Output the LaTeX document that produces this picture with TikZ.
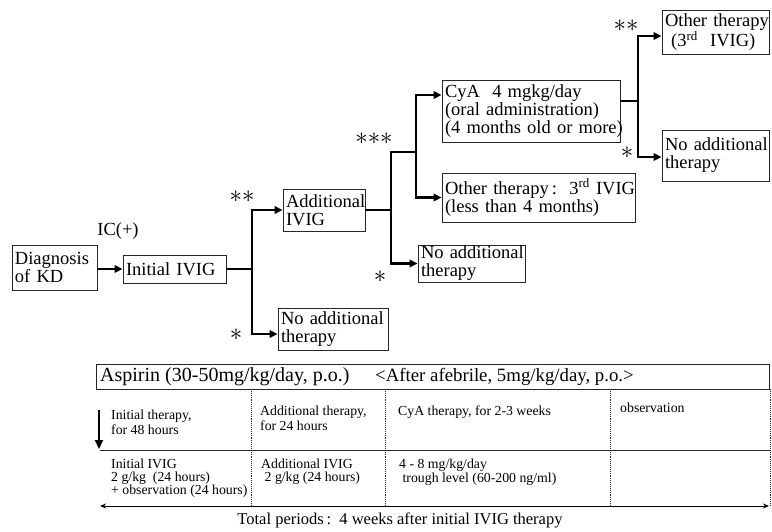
\documentclass[tikz,border=0pt]{standalone}
\usepackage{fontspec}
\setmainfont{Liberation Serif}
\usetikzlibrary{arrows.meta,calc}
\tikzset{
  bx/.style={draw=black!85, line width=0.9pt, inner xsep=3pt, inner ysep=0pt,
    align=left, font=\fontsize{18.5}{18}\selectfont, anchor=center},
  arr/.style={line width=2.4pt, -{Triangle[length=8pt,width=7.5pt]}},
  ln/.style={line width=2.4pt},
  star/.style={font=\fontsize{25}{25}\selectfont, inner sep=0pt},
  lbl/.style={font=\fontsize{18.5}{18}\selectfont, inner sep=0pt},
  tbl/.style={font=\fontsize{13.8}{15}\selectfont, align=left, inner sep=0pt, anchor=north west},
  tblb/.style={font=\fontsize{13.8}{12.5}\selectfont, align=left, inner sep=0pt, anchor=north west},
  dotl/.style={densely dotted, line width=0.9pt, black!85},
}
\begin{document}
\begin{tikzpicture}[x=1pt,y=-1pt]
\useasboundingbox (0,0) rectangle (772,531);
% boxes
\node[bx, text width=79pt, minimum height=45pt] (diag) at (54.5,267.5) {Diagnosis\\of KD};
\node[bx, text width=97pt, minimum height=28pt] (init) at (174.5,269) {Initial IVIG};
\node[bx, text width=76pt, minimum height=42pt] (add) at (324,210) {Additional\\IVIG};
\node[bx, text width=104pt, minimum height=42pt] (no1) at (333,329) {\mbox{No additional}\\therapy};
\node[bx, text width=101pt, minimum height=37pt] (no2) at (471.5,263.5) {\mbox{No additional}\\therapy};
\node[bx, text width=172pt, minimum height=62pt] (cya) at (531,111) {\mbox{CyA\ \ 4 mgkg/day}\\\mbox{(oral administration)}\\\mbox{(4 months old or more)}};
\node[bx, text width=187pt, minimum height=49pt] (oth) at (538.5,197.5) {\mbox{Other therapy\,:\ \ 3\textsuperscript{rd} IVIG}\\\mbox{(less than 4 months)}};
\node[bx, text width=101pt, minimum height=44pt] (oth3) at (715.5,32) {\mbox{Other therapy}\\\mbox{\ (3\textsuperscript{rd}\ \ IVIG)}};
\node[bx, text width=101pt, minimum height=51pt] (no3) at (715.5,155.5) {\mbox{No additional}\\therapy};
% labels
\node[lbl] (ic) at (118,231) {IC(+)};
\node[star] (s1) at (242,197) {${\ast}{\ast}$};
\node[star] (s2) at (236,335) {${\ast}$};
\node[star] (s3) at (374,139) {${\ast}{\ast}{\ast}$};
\node[star] (s4) at (380,277) {${\ast}$};
\node[star] (s5) at (626,26) {${\ast}{\ast}$};
\node[star] (s6) at (627,153) {${\ast}$};
% connectors
\coordinate (j1) at (252,269);
\coordinate (j2) at (391,210);
\coordinate (j3) at (416,152);
\coordinate (j4) at (638,101);
\draw[arr] (diag.east |- init.west) -- (init.west);
\draw[ln] (init.east) -- (j1);
\draw[arr] (j1) |- (add.west);
\draw[arr] (j1) |- ([yshift=-5pt]no1.west);
\draw[ln] (add.east) -- (j2);
\draw[ln] (j2) |- (j3);
\draw[arr] (j2) |- (no2.west);
\draw[arr] (j3) |- ([yshift=16pt]cya.west);
\draw[arr] (j3) |- (oth.west);
\draw[ln] ([yshift=10pt]cya.east) -- (j4);
\draw[arr] (j4) |- ([yshift=-4pt]oth3.west);
\draw[arr] (j4) |- ([yshift=-1.5pt]no3.west);
% table
\node[draw=black!85, line width=0.9pt, minimum width=673pt, minimum height=25pt, inner sep=0pt, anchor=north west] (asp) at (96,364) {};
\node[font=\fontsize{20}{20}\selectfont, inner sep=0pt, anchor=west] (asp1) at (100,376.5) {Aspirin (30-50mg/kg/day, p.o.)};
\node[font=\fontsize{18.8}{20}\selectfont, inner sep=0pt, anchor=west] (asp2) at (375,376.5) {<After afebrile, 5mg/kg/day, p.o.>};
\draw[line width=0.9pt, black!85] (100,450) -- (770,450);
\foreach \x in {251,385,610,770} \draw[dotl] (\x,389) -- (\x,506);
\draw[line width=1pt, {Stealth[length=6pt,width=5pt]}-{Stealth[length=6pt,width=5pt]}] (100,506) -- (769,506);
\draw[line width=2.2pt, -{Triangle[length=9pt,width=8pt]}] (99,410) -- (99,449);
\node[tbl] (t11) at (111,410) {Initial therapy,\\for 48 hours};
\node[tbl] (t12) at (260,406) {Additional therapy,\\for 24 hours};
\node[tbl] (t13) at (398,406) {CyA therapy, for 2-3 weeks};
\node[tbl] (t14) at (620,403) {observation};
\node[tblb] (t21) at (111,459) {Initial IVIG\\2 g/kg\ \ (24 hours)\\+ observation (24 hours)};
\node[tblb] (t22) at (261,459) {Additional IVIG\\\ 2 g/kg (24 hours)};
\node[tblb] (t23) at (399,459) {4 - 8 mg/kg/day\\\ trough level (60-200 ng/ml)};
\node[font=\fontsize{16.5}{18}\selectfont, inner sep=0pt] (tot) at (400,520) {Total periods\,:\ \ 4 weeks after initial IVIG therapy};
\end{tikzpicture}
\end{document}
